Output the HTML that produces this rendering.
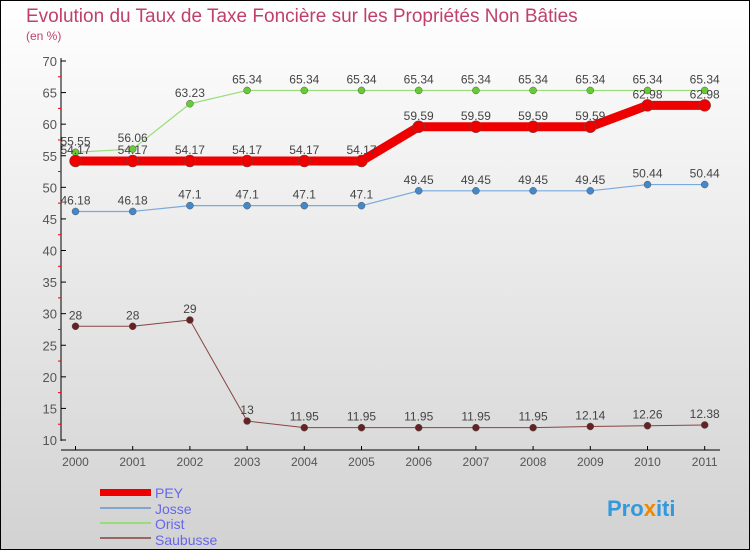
<!DOCTYPE html>
<html><head><meta charset="utf-8"><style>
body{margin:0}
svg{display:block;font-family:"Liberation Sans",sans-serif}
</style></head><body>
<svg id="c" width="750" height="550" xmlns="http://www.w3.org/2000/svg">
<defs><linearGradient id="bg" x1="0" y1="0" x2="0" y2="1"><stop offset="0" stop-color="#ffffff"/><stop offset="1" stop-color="#d2d2d2"/></linearGradient></defs>
<rect x="0.5" y="0.5" width="749" height="549" fill="url(#bg)" stroke="#000"/>
<text x="26" y="22" font-size="19" fill="#c0406a">Evolution du Taux de Taxe Foncière sur les Propriétés Non Bâties</text>
<text x="26" y="40" font-size="12" fill="#c0406a">(en %)</text>
<g id="axes"></g><g id="series"></g>
<g>
<rect x="100" y="489" width="51" height="7" fill="#e00"/>
<text x="155" y="498" font-size="14" fill="#6666ee">PEY</text>
<line x1="100" y1="508" x2="151" y2="508" stroke="#80a8cc" stroke-width="2"/>
<text x="155" y="514" font-size="14" fill="#6666ee">Josse</text>
<line x1="100" y1="523" x2="151" y2="523" stroke="#99dd77" stroke-width="2"/>
<text x="155" y="529" font-size="14" fill="#6666ee">Orist</text>
<line x1="100" y1="538" x2="151" y2="538" stroke="#996666" stroke-width="2"/>
<text x="155" y="545" font-size="14" fill="#6666ee">Saubusse</text>
</g>
<text x="607" y="516" font-size="22" font-weight="bold" fill="#3399dd">Pro<tspan fill="#ee8800">x</tspan>iti</text>
</svg>
<script>
const years=["2000","2001","2002","2003","2004","2005","2006","2007","2008","2009","2010","2011"];
const pey=[54.17,54.17,54.17,54.17,54.17,54.17,59.59,59.59,59.59,59.59,62.98,62.98];
const josse=[46.18,46.18,47.1,47.1,47.1,47.1,49.45,49.45,49.45,49.45,50.44,50.44];
const orist=[55.55,56.06,63.23,65.34,65.34,65.34,65.34,65.34,65.34,65.34,65.34,65.34];
const saubusse=[28,28,29,13,11.95,11.95,11.95,11.95,11.95,12.14,12.26,12.38];
const yTicks=[10,15,20,25,30,35,40,45,50,55,60,65,70];
const NS="http://www.w3.org/2000/svg";
const x=i=>75.5+i*57.2;
const y=v=>440-(v-10)*(379/60);
function mk(t,a,p){const e=document.createElementNS(NS,t);for(const k in a)e.setAttribute(k,a[k]);p.appendChild(e);return e;}
const ax=document.getElementById('axes');
const ya=mk('line',{x1:61,y1:58,x2:61,y2:441,stroke:'#000'},ax);


const xa=mk('line',{x1:61,y1:450,x2:720,y2:450,stroke:'#000'},ax);


yTicks.forEach(v=>{
 mk('line',{x1:61,y1:y(v),x2:66,y2:y(v),stroke:'#000'},ax);
 if(v<70) mk('line',{x1:58,y1:y(v+2.5),x2:61,y2:y(v+2.5),stroke:'#e00'},ax);
 const t=mk('text',{x:57,y:y(v)+5,'font-size':13,fill:'#555','text-anchor':'end'},ax);t.textContent=v;
 
 
});
years.forEach((yr,i)=>{
 mk('line',{x1:x(i),y1:446,x2:x(i),y2:450,stroke:'#000'},ax);
 const t=mk('text',{x:x(i),y:466,'font-size':12,fill:'#555','text-anchor':'middle'},ax);t.textContent=yr;
 
 
});
const sg=document.getElementById('series');
function series(name,vals,color,w,r,dot){
 const g=mk('g',{},sg);
 
 
 mk('polyline',{points:vals.map((v,i)=>x(i)+','+y(v)).join(' '),fill:'none',stroke:color,'stroke-width':w,'stroke-linejoin':'round'},g);
 vals.forEach((v,i)=>{
  const c=mk('circle',{cx:x(i),cy:y(v),r:r,fill:dot,stroke:'#555','stroke-width':0.5},g);
  
  
  const t=mk('text',{x:x(i),y:y(v)-7,'font-size':12,fill:'#444','text-anchor':'middle'},g);t.textContent=v;
  
  
 });
}
series('saubusse',saubusse,'#884444',1,3.5,'#662222');
series('josse',josse,'#77aadd',1.2,3.5,'#4488cc');
series('orist',orist,'#99dd77',1.2,3.5,'#66cc33');
series('pey',pey,'#ee0000',9,6,'#ee0000');
</script>
</body></html>
